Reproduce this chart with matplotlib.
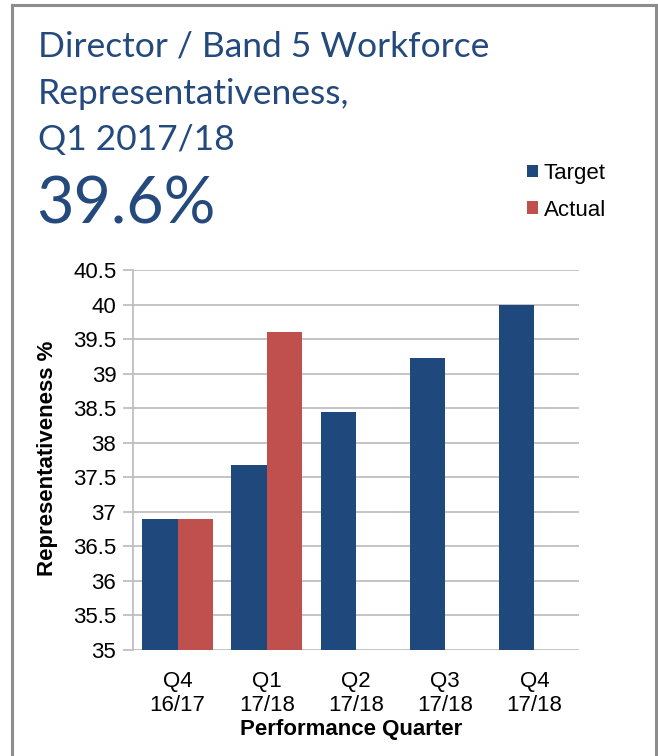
import numpy as np
import matplotlib.pyplot as plt
from matplotlib.lines import Line2D

# Quarterly workforce representativeness: target vs actual (%)
quarters = ['Q4\n16/17', 'Q1\n17/18', 'Q2\n17/18', 'Q3\n17/18', 'Q4\n17/18']
target = [36.9, 37.68, 38.45, 39.23, 40.0]
actual = [36.9, 39.6, np.nan, np.nan, np.nan]
title_lines = ['Director / Band 5 Workforce', 'Representativeness,', 'Q1 2017/18']
headline = '39.6%'

BLUE = '#1F497D'
RED = '#C0504D'
GRID = '#BFBFBF'
TITLE_BLUE = '#24497C'
ARIAL = 'Liberation Sans'

W, H = 658, 756
fig = plt.figure(figsize=(W / 100, H / 100), dpi=100)
fig.patch.set_facecolor('white')

def fx(px):
    return px / W

def fy(px):
    return 1 - px / H

# grey frame (open at the bottom)
frame = dict(color='#8C8C8C', lw=2.2, transform=fig.transFigure)
fig.add_artist(Line2D([fx(12), fx(12)], [0, fy(5)], **frame))
fig.add_artist(Line2D([fx(12), fx(656)], [fy(5), fy(5)], **frame))
fig.add_artist(Line2D([fx(656), fx(656)], [0, fy(5)], **frame))

# title block, one line at a time
for i, line in enumerate(title_lines):
    fig.text(fx(38), fy(57 + 46.5 * i), line, fontsize=25.5, family='Lato',
             color=TITLE_BLUE, va='baseline', ha='left')
fig.text(fx(36), fy(224), headline, fontsize=46.5, family='Lato',
         color=TITLE_BLUE, va='baseline', ha='left')

ax = fig.add_axes([fx(133), fy(650), fx(446), 380 / H])
x = np.arange(len(quarters))
bw = 0.396
ax.bar(x - bw / 2, target, bw, color=BLUE, label='Target', zorder=2)
ax.bar(x + bw / 2, actual, bw, color=RED, label='Actual', zorder=2)

ax.set_ylim(35, 40.5)
ax.set_xlim(-0.5, len(quarters) - 0.5)
ax.set_yticks(np.arange(35, 40.51, 0.5))
ax.set_yticklabels(['35', '35.5', '36', '36.5', '37', '37.5', '38', '38.5',
                    '39', '39.5', '40', '40.5'])
ax.set_xticks(x)
ax.set_xticklabels(quarters)
ax.yaxis.grid(True, color=GRID, lw=1.3)
ax.set_axisbelow(True)

for s in ['top', 'right', 'bottom']:
    ax.spines[s].set_visible(False)
ax.spines['left'].set_color(GRID)
ax.spines['left'].set_linewidth(1.3)
ax.tick_params(axis='y', length=7, width=1.3, color=GRID, pad=5,
               labelsize=16, labelfontfamily=ARIAL)
ax.tick_params(axis='x', length=0, pad=15, labelsize=16,
               labelfontfamily=ARIAL)
for lbl in ax.get_xticklabels():
    lbl.set_linespacing(1.2)

fig.text(fx(48), fy(458), 'Representativeness %', rotation=90, fontsize=16,
         fontweight='bold', family=ARIAL, ha='center', va='center')
fig.text(fx(351), fy(730), 'Performance Quarter', fontsize=16,
         fontweight='bold', family=ARIAL, ha='center', va='center')

fig.legend(loc='upper left', bbox_to_anchor=(fx(527), fy(163)),
           frameon=False, prop={'family': ARIAL, 'size': 16},
           handlelength=0.5, handleheight=0.5, handletextpad=0.25,
           labelspacing=0.7, borderaxespad=0, borderpad=0)

fig.savefig('out.png', dpi=100, facecolor='white')
